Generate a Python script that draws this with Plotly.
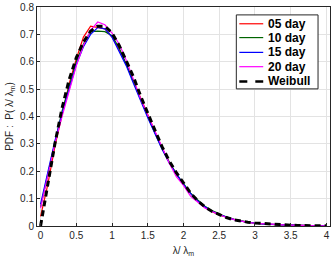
"""PDF of normalised wavelength for several days, with Weibull fit"""
import plotly.graph_objects as go

# normalised wavelength bins (lambda / lambda_m)
x_bins = [0.0, 0.1, 0.2, 0.3, 0.4, 0.5, 0.6, 0.7, 0.8, 0.9,
          1.0, 1.1, 1.2, 1.3, 1.4, 1.5, 1.6, 1.7, 1.8, 1.9,
          2.0, 2.1, 2.2, 2.3, 2.4, 2.5, 2.6, 2.7, 2.8, 2.9,
          3.0, 3.1, 3.2, 3.3, 3.4, 3.5, 3.6, 3.7, 3.8, 3.9, 4.0]

pdf_05 = [0.035, 0.15, 0.29, 0.41, 0.52, 0.61, 0.69, 0.73, 0.725, 0.72,
          0.69, 0.645, 0.59, 0.53, 0.465, 0.405, 0.345, 0.285, 0.232, 0.19,
          0.15, 0.118, 0.09, 0.068, 0.052, 0.04, 0.031, 0.024, 0.018, 0.013,
          0.01, 0.008, 0.006, 0.005, 0.004, 0.003, 0.002, 0.002, 0.001, 0.001, 0.001]
pdf_10 = [0.07, 0.19, 0.31, 0.42, 0.51, 0.6, 0.665, 0.71, 0.712, 0.71,
          0.695, 0.65, 0.59, 0.525, 0.46, 0.4, 0.34, 0.283, 0.235, 0.19,
          0.155, 0.12, 0.095, 0.072, 0.056, 0.043, 0.033, 0.025, 0.019, 0.014,
          0.011, 0.008, 0.006, 0.005, 0.004, 0.003, 0.002, 0.002, 0.001, 0.001, 0.001]
pdf_15 = [0.08, 0.2, 0.31, 0.41, 0.5, 0.59, 0.655, 0.70, 0.725, 0.72,
          0.69, 0.64, 0.585, 0.52, 0.455, 0.395, 0.338, 0.28, 0.23, 0.19,
          0.152, 0.118, 0.091, 0.07, 0.054, 0.042, 0.032, 0.024, 0.018, 0.013,
          0.01, 0.008, 0.006, 0.005, 0.004, 0.003, 0.002, 0.002, 0.001, 0.001, 0.001]
pdf_20 = [0.065, 0.185, 0.30, 0.40, 0.49, 0.585, 0.66, 0.715, 0.745, 0.735,
          0.705, 0.665, 0.605, 0.535, 0.465, 0.405, 0.345, 0.285, 0.23, 0.18,
          0.148, 0.108, 0.088, 0.066, 0.053, 0.041, 0.031, 0.024, 0.018, 0.013,
          0.01, 0.008, 0.006, 0.005, 0.004, 0.003, 0.002, 0.002, 0.001, 0.001, 0.001]
pdf_weibull = [0.0, 0.155, 0.30, 0.43, 0.535, 0.615, 0.672, 0.712, 0.73, 0.73,
               0.705, 0.66, 0.605, 0.545, 0.475, 0.41, 0.35, 0.29, 0.238, 0.195,
               0.158, 0.12, 0.092, 0.07, 0.053, 0.042, 0.031, 0.023, 0.018, 0.014,
               0.011, 0.009, 0.007, 0.005, 0.004, 0.003, 0.002, 0.0015, 0.001, 0.0008, 0.0005]

W, H = 332, 258
M = dict(l=37, r=1, t=4, b=32)

series = [
    ("05 day", pdf_05, dict(color="#ff0000", width=1.2)),
    ("10 day", pdf_10, dict(color="#006400", width=1.2)),
    ("15 day", pdf_15, dict(color="#0000ff", width=1.2)),
    ("20 day", pdf_20, dict(color="#ff00ff", width=1.2)),
    ("Weibull", pdf_weibull, dict(color="black", width=3, dash="6px,4px")),
]


def px(x):
    """pixel column -> paper x"""
    return (x - M["l"]) / (W - M["l"] - M["r"])


def py(y):
    """pixel row -> paper y"""
    return (H - M["b"] - y) / (H - M["t"] - M["b"])


fig = go.Figure()
for name, vals, line in series:
    fig.add_trace(go.Scatter(x=x_bins, y=vals, mode="lines", name=name,
                             line=line, showlegend=False))

# MATLAB-style legend box (compact rows, short line samples)
shapes = [dict(type="rect", xref="paper", yref="paper",
               x0=px(237), x1=px(319), y0=py(87), y1=py(12),
               fillcolor="white", line=dict(color="#262626", width=1))]
annotations = []
row_y = [21, 35, 50, 64.5, 79.5]
for (name, _, line), ry in zip(series, row_y):
    sample = dict(color=line["color"], width=line["width"])
    if name == "Weibull":
        sample["width"] = 2.5
        sample["dash"] = "8px,8px"
    shapes.append(dict(type="line", xref="paper", yref="paper",
                       x0=px(240), x1=px(264), y0=py(ry), y1=py(ry), line=sample))
    annotations.append(dict(text=name, xref="paper", yref="paper",
                            x=px(267), y=py(ry), xanchor="left", yanchor="middle",
                            showarrow=False,
                            font=dict(size=12, color="black", weight="bold")))

axis_common = dict(
    showgrid=True, gridcolor="#e3e3e3", gridwidth=1,
    showline=True, linecolor="#262626", linewidth=1, mirror=True,
    ticks="inside", ticklen=3, tickcolor="#262626",
    tickfont=dict(size=10, color="#262626"),
    ticklabeloverflow="allow",
    zeroline=False,
)

fig.update_layout(
    width=W, height=H,
    margin=M,
    paper_bgcolor="white", plot_bgcolor="white",
    font=dict(family="Liberation Sans, Arial, sans-serif", color="#262626"),
    shapes=shapes,
    annotations=annotations,
)
fig.update_xaxes(
    range=[-0.05, 4.05], tickvals=[0, 0.5, 1, 1.5, 2, 2.5, 3, 3.5, 4],
    ticktext=["0", "0.5", "1", "1.5", "2", "2.5", "3", "3.5", "4"],
    title=dict(text="λ/ λ<sub>m</sub>", font=dict(size=10), standoff=6),
    **axis_common,
)
fig.update_yaxes(
    range=[0, 0.8], tickvals=[0, 0.1, 0.2, 0.3, 0.4, 0.5, 0.6, 0.7, 0.8],
    ticktext=["0", "0.1", "0.2", "0.3", "0.4", "0.5", "0.6", "0.7", "0.8"],
    title=dict(text="PDF :  P( λ/ λ<sub>m</sub>)", font=dict(size=10), standoff=4),
    **axis_common,
)

# drop the browser's default body margin so the figure sits at the window corner
fig.write_html("out.html", config={"displayModeBar": False},
               post_script="document.body.style.margin='0';")
